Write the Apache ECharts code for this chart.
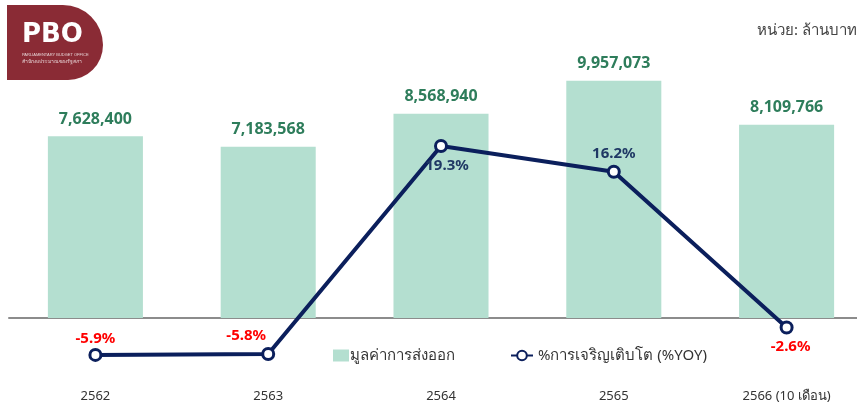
<!DOCTYPE html>
<html>
<head>
<meta charset="utf-8">
<script src="https://cdn.jsdelivr.net/npm/echarts@6/dist/echarts.min.js"></script>
<style>
  html, body { margin: 0; padding: 0; background: #fff; }
  #chart { width: 857px; height: 407px; }
</style>
</head>
<body>
<div id="chart"></div>
<script>
// ข้อมูล
const years = ['2562', '2563', '2564', '2565', '2566 (10 เดือน)'];
const exportValue = [7628400, 7183568, 8568940, 9957073, 8109766];
const yoyGrowth = [-5.9, -5.8, 19.3, 16.2, -2.6];

const barName = 'มูลค่าการส่งออก';
const lineName = '%การเจริญเติบโต (%YOY)';
const FONT = '"Noto Sans", "DejaVu Sans", sans-serif';

// ตำแหน่งป้ายของเส้น
const lineLabelPos = [
  { position: 'top', distance: 2, offset: [0, 0] },
  { position: 'top', distance: 4, offset: [-22, 0] },
  { position: 'bottom', distance: 5, offset: [6, 0] },
  { position: 'top', distance: 3, offset: [0, 0] },
  { position: 'bottom', distance: 5, offset: [4, 0] }
];

const chart = echarts.init(document.getElementById('chart'));

const option = {
  animation: false,
  textStyle: { fontFamily: FONT },
  graphic: [
    {
      type: 'rect',
      left: 7, top: 5,
      shape: { width: 96, height: 75, r: [0, 46, 40, 0] },
      style: { fill: '#8a2b35' }
    },
    {
      type: 'text',
      left: 22, top: 22,
      style: { text: 'PBO', fill: '#fff', font: 'bold 26px "DejaVu Sans", sans-serif' }
    },
    {
      type: 'text',
      left: 22, top: 53,
      style: { text: 'PARLIAMENTARY BUDGET OFFICE', fill: 'rgba(255,255,255,0.8)', font: '4px sans-serif' }
    },
    {
      type: 'text',
      left: 22, top: 59,
      style: { text: 'สำนักงบประมาณของรัฐสภา', fill: 'rgba(255,255,255,0.8)', font: '5px sans-serif' }
    },
    {
      type: 'text',
      left: 757, top: 23,
      style: { text: 'หน่วย: ล้านบาท', fill: '#444', font: '15px ' + FONT }
    }
  ],
  legend: [
    {
      data: [barName],
      left: 328, top: 343,
      itemWidth: 16, itemHeight: 12,
      icon: 'rect',
      textStyle: { color: '#333', fontSize: 15, fontFamily: FONT, padding: [0, 0, 0, -4] }
    },
    {
      data: [lineName],
      left: 505, top: 343,
      itemWidth: 22, itemHeight: 12,
      textStyle: { color: '#333', fontSize: 15, fontFamily: FONT }
    }
  ],
  grid: { left: 9, width: 864, top: 32, bottom: 89, outerBoundsMode: 'none' },
  xAxis: {
    type: 'category',
    data: years,
    axisLine: { lineStyle: { color: '#8c8c8c', width: 2 } },
    axisTick: { show: false },
    axisLabel: { color: '#333', fontSize: 13, margin: 72, fontFamily: FONT }
  },
  yAxis: [
    { type: 'value', min: 0, max: 12000000, show: false, splitLine: { show: false } },
    { type: 'value', min: -1.45, max: 33.05, show: false, splitLine: { show: false } }
  ],
  series: [
    {
      name: barName,
      type: 'bar',
      barWidth: '55%',
      data: exportValue,
      itemStyle: { color: '#b4dfd0' },
      label: {
        show: true,
        position: 'top',
        distance: 9,
        color: '#2e7d5b',
        fontSize: 16,
        fontWeight: 'bold',
        fontFamily: FONT,
        formatter: p => p.value.toLocaleString('en-US')
      }
    },
    {
      name: lineName,
      type: 'line',
      yAxisIndex: 1,
      clip: false,
      data: yoyGrowth.map((v, i) => ({
        value: v,
        label: {
          position: lineLabelPos[i].position,
          distance: lineLabelPos[i].distance,
          offset: lineLabelPos[i].offset,
          color: v < 0 ? '#ff0000' : '#1f3864'
        }
      })),
      symbol: 'circle',
      symbolSize: 11,
      lineStyle: { color: '#0b1f5c', width: 4 },
      itemStyle: { color: '#ffffff', borderColor: '#0b1f5c', borderWidth: 3 },
      label: {
        show: true,
        fontSize: 15,
        fontWeight: 'bold',
        fontFamily: FONT,
        formatter: p => p.value.toFixed(1) + '%'
      }
    }
  ]
};

chart.setOption(option);
</script>
</body>
</html>
